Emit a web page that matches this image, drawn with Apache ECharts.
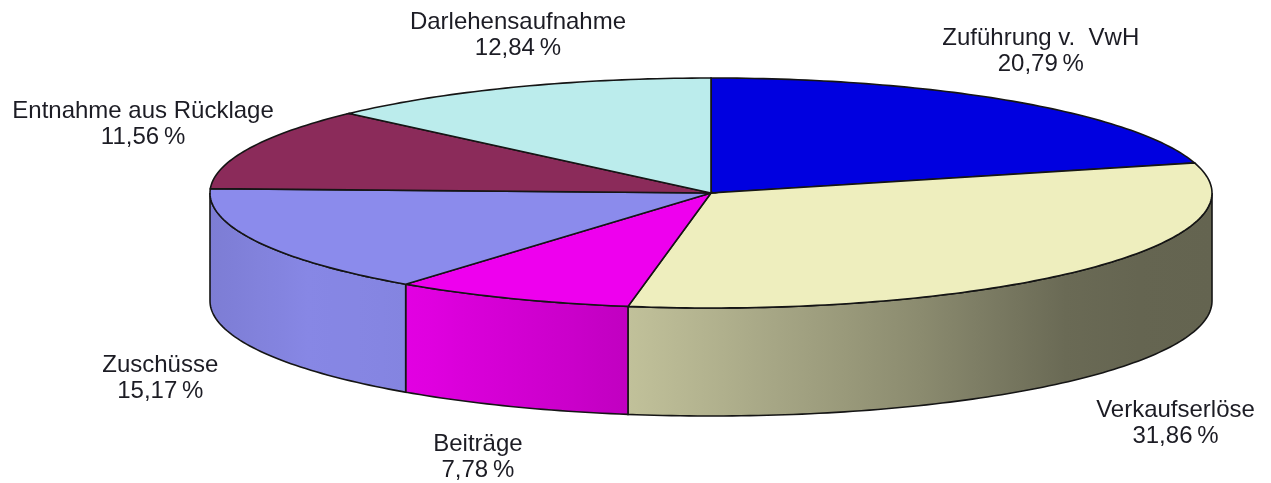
<!DOCTYPE html>
<html>
<head>
<meta charset="utf-8">
<script src="https://cdn.jsdelivr.net/npm/echarts@6/dist/echarts.min.js"></script>
<style>
  html, body { margin: 0; padding: 0; background: #fff; }
  #chart { width: 1271px; height: 483px; }
</style>
</head>
<body>
<div id="chart"></div>
<script>
// Daten (Anteile in %)
var categories = ['Zuführung v.  VwH', 'Verkaufserlöse', 'Beiträge', 'Zuschüsse', 'Entnahme aus Rücklage', 'Darlehensaufnahme'];
var shares = [20.79, 31.86, 7.78, 15.17, 11.56, 12.84];
var sliceColors = ['#0000e0', '#eeeebe', '#ee00ee', '#8b8bec', '#8b2b5a', '#bbecec'];

// Geometrie der "3D"-Torte
var CX = 711, CY = 193, RX = 501, RY = 115, DEPTH = 108;
// Licht von links: Helligkeit der Seitenwand über die Breite
var light = [[0, 0.9], [0.1, 0.97], [0.2, 0.95], [0.42, 0.81], [0.69, 0.6], [0.87, 0.43], [1, 0.42]];
// kleine Korrekturen der Beschriftungslage [dx, dy]
var labelNudge = [[-3, -2], [39, 4], [-31, -5], [-1, 3], [-6, 0], [5, 4]];

var total = shares.reduce(function (a, b) { return a + b; }, 0);
var starts = [];
var acc = 0;
shares.forEach(function (v) { starts.push(acc); acc += v; });

function pt(deg, dy) {
  var t = deg * Math.PI / 180;
  return [CX + RX * Math.sin(t), CY - RY * Math.cos(t) + (dy || 0)];
}

function lightAt(x) {
  var u = (x - (CX - RX)) / (2 * RX);
  u = Math.max(0, Math.min(1, u));
  for (var i = 1; i < light.length; i++) {
    if (u <= light[i][0]) {
      var a = light[i - 1], b = light[i];
      return a[1] + (b[1] - a[1]) * (u - a[0]) / (b[0] - a[0]);
    }
  }
  return light[light.length - 1][1];
}

function shade(hex, f) {
  var n = parseInt(hex.slice(1), 16);
  var r = Math.round(((n >> 16) & 255) * f);
  var g = Math.round(((n >> 8) & 255) * f);
  var b = Math.round((n & 255) * f);
  return 'rgb(' + r + ',' + g + ',' + b + ')';
}

function fmt(v) {
  return v.toFixed(2).replace('.', ',') + '\u2009%';
}

function renderItem(params, api) {
  var i = params.dataIndex;
  var value = api.value(0);
  var a = starts[i] / total * 360;
  var b = a + value / total * 360;
  var children = [];
  var step = 1;

  // Seitenwand (nur vordere Hälfte sichtbar)
  var sa = Math.max(a, 90), sb = Math.min(b, 270);
  if (sb > sa) {
    var wall = [];
    for (var d = sa; d < sb; d += step) wall.push(pt(d));
    wall.push(pt(sb));
    for (var d2 = sb; d2 > sa; d2 -= step) wall.push(pt(d2, DEPTH));
    wall.push(pt(sa, DEPTH));
    var xl = pt(sb)[0], xr = pt(sa)[0];
    var stops = [];
    for (var k = 0; k <= 8; k++) {
      var xx = xl + (xr - xl) * k / 8;
      stops.push({ offset: k / 8, color: shade(sliceColors[i], lightAt(xx)) });
    }
    children.push({
      type: 'polygon',
      shape: { points: wall },
      style: {
        fill: { type: 'linear', x: xl, y: 0, x2: xr, y2: 0, global: true, colorStops: stops },
        stroke: '#151515',
        lineWidth: 1.6
      }
    });
  }

  // Deckfläche
  var top = [[CX, CY]];
  for (var e = a; e < b; e += step) top.push(pt(e));
  top.push(pt(b));
  children.push({
    type: 'polygon',
    shape: { points: top },
    style: { fill: sliceColors[i], stroke: '#151515', lineWidth: 1.6 }
  });

  // Beschriftung
  var m = (a + b) / 2 * Math.PI / 180;
  var s = Math.sin(m), c = Math.cos(m);
  var kx = 0.85 + 0.4 * Math.abs(s);
  var lx = CX + kx * RX * s + labelNudge[i][0];
  var ly = CY - 1.53 * RY * c + (c < 0 ? DEPTH : 0) + labelNudge[i][1];
  children.push({
    type: 'text',
    x: lx,
    y: ly,
    style: {
      text: categories[i] + '\n' + fmt(value),
      fill: '#1c1c24',
      fontSize: 24,
      fontFamily: '"Liberation Sans", Arial, sans-serif',
      align: 'center',
      verticalAlign: 'middle',
      lineHeight: 26
    }
  });

  return { type: 'group', children: children };
}

var chart = echarts.init(document.getElementById('chart'));
chart.setOption({
  animation: false,
  backgroundColor: '#ffffff',
  series: [{
    type: 'custom',
    coordinateSystem: 'none',
    silent: true,
    renderItem: renderItem,
    data: shares.map(function (v, i) { return { name: categories[i], value: [v] }; })
  }]
});
</script>
</body>
</html>
